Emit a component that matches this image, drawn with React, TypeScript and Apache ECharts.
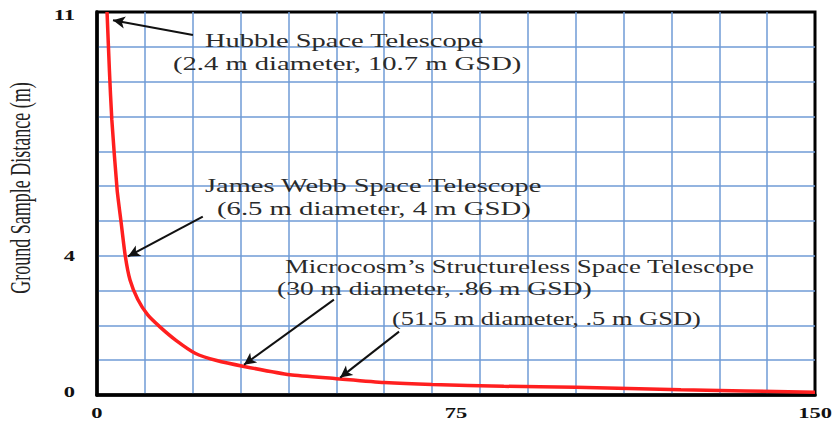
import React, { useEffect, useRef } from "react";
import * as echarts from "echarts";

// ---- data ----
const diameters = [2.1, 2.6, 3.1, 4.2, 5.0, 5.9, 6.9, 8.5, 10.6, 13.2, 16.5, 20.5, 25, 30.7, 40.3, 50, 60, 70, 85, 100, 122, 150];
const gsd = [11.0, 9.3, 7.9, 5.9, 5.0, 4.0, 3.3, 2.75, 2.3, 1.95, 1.57, 1.2, 0.99, 0.82, 0.58, 0.47, 0.36, 0.3, 0.25, 0.22, 0.15, 0.08];
const xTickLabels = [0, 75, 150];
const yTickLabels = [0, 4, 11];
const yAxisTitle = "Ground Sample Distance (m)";

// arrows: [tailX, tailY, headX, headY] in data units
const arrowTails = [
  [20.05, 10.34],
  [22.1, 5.12],
  [49.5, 2.74],
  [63.1, 1.82],
];
const arrowHeads = [
  [3.34, 10.76],
  [6.48, 3.98],
  [30.7, 0.87],
  [50.8, 0.5],
];

const annotationTexts = [
  "Hubble Space Telescope",
  "(2.4 m diameter, 10.7 m GSD)",
  "James Webb Space Telescope",
  "(6.5 m diameter, 4 m GSD)",
  "Microcosm\u2019s Structureless Space Telescope",
  "(30 m diameter, .86 m GSD)",
  "(51.5 m diameter, .5 m GSD)",
];
// layout for the annotation texts (pixels): left x, middle y, horizontal stretch
const annotationLayout = [
  [205, 41, 1.58],
  [173, 64, 1.59],
  [205, 186, 1.58],
  [217, 209, 1.595],
  [285, 267, 1.49],
  [277, 289, 1.53],
  [392, 319, 1.47],
];

const SERIF = '"Liberation Serif", "Times New Roman", serif';

export default function App() {
  const ref = useRef<HTMLDivElement>(null);
  useEffect(() => {
    document.body.style.margin = "0";
    if (!ref.current) return;
    const chart = echarts.init(ref.current, undefined, { renderer: "svg" });
    const gridLine = { show: true, lineStyle: { color: "#6f9bd6", width: 1.5 }, showMinLine: false, showMaxLine: false };
    chart.setOption({
      animation: false,
      backgroundColor: "#ffffff",
      grid: {
        left: 97,
        right: 17,
        top: 12,
        bottom: 28,
        show: true,
        borderColor: "#000",
        borderWidth: 3,
        containLabel: false,
      },
      xAxis: {
        type: "value",
        min: 0,
        max: 150,
        interval: 10,
        axisLine: { show: true, onZero: false, lineStyle: { color: "#000", width: 3.5 } },
        axisTick: { show: false },
        axisLabel: { show: false },
        splitLine: gridLine,
      },
      yAxis: {
        type: "value",
        min: 0,
        max: 11,
        interval: 1,
        axisLine: { show: true, onZero: false, lineStyle: { color: "#000", width: 3.5 } },
        axisTick: { show: false },
        axisLabel: { show: false },
        splitLine: gridLine,
      },
      series: [
        {
          type: "line",
          data: diameters.map((d, i) => [d, gsd[i]]),
          showSymbol: false,
          smooth: 0.2,
          lineStyle: { color: "#ff1f1f", width: 3.5 },
          silent: true,
          markLine: {
            silent: true,
            symbol: ["none", "arrow"],
            symbolSize: [9, 12],
            label: { show: false },
            lineStyle: { color: "#111", width: 2, type: "solid" },
            emphasis: { disabled: true },
            data: arrowTails.map((t, i) => [{ coord: t }, { coord: arrowHeads[i] }]),
          },
        },
      ],
    });

    const toPx = (v: number[]) => chart.convertToPixel({ gridIndex: 0 }, v) as number[];
    const graphics: any[] = [];
    xTickLabels.forEach((v) => {
      const p = toPx([v, 0]);
      graphics.push({
        type: "text",
        x: p[0],
        y: p[1] + 18,
        scaleX: 1.5,
        style: {
          text: String(v),
          font: `bold 15px ${SERIF}`,
          fill: "#111",
          align: "center",
          verticalAlign: "middle",
          textAlign: "center",
          textVerticalAlign: "middle",
        },
      });
    });
    yTickLabels.forEach((v) => {
      const p = toPx([0, v]);
      graphics.push({
        type: "text",
        x: p[0] - 22,
        y: p[1] + (v === 0 ? -3 : v === 11 ? 3 : 0),
        scaleX: 1.5,
        style: {
          text: String(v),
          font: `bold 15px ${SERIF}`,
          fill: "#111",
          align: "right",
          verticalAlign: "middle",
          textAlign: "right",
          textVerticalAlign: "middle",
        },
      });
    });
    graphics.push({
      type: "text",
      x: 20,
      y: 188,
      rotation: Math.PI / 2,
      scaleY: 1.58,
      style: {
        text: yAxisTitle,
        font: `18px ${SERIF}`,
        fill: "#222",
        align: "center",
        verticalAlign: "middle",
        textAlign: "center",
        textVerticalAlign: "middle",
      },
    });
    annotationTexts.forEach((t, i) => {
      const [x, y, s] = annotationLayout[i];
      graphics.push({
        type: "text",
        x,
        y,
        scaleX: s,
        style: {
          text: t,
          font: `18px ${SERIF}`,
          fill: "#2a2a2a",
          align: "left",
          verticalAlign: "middle",
          textAlign: "left",
          textVerticalAlign: "middle",
        },
      });
    });
    chart.setOption({ graphic: graphics });
    return () => chart.dispose();
  }, []);
  return <div ref={ref} style={{ width: 832, height: 423 }} />;
}
